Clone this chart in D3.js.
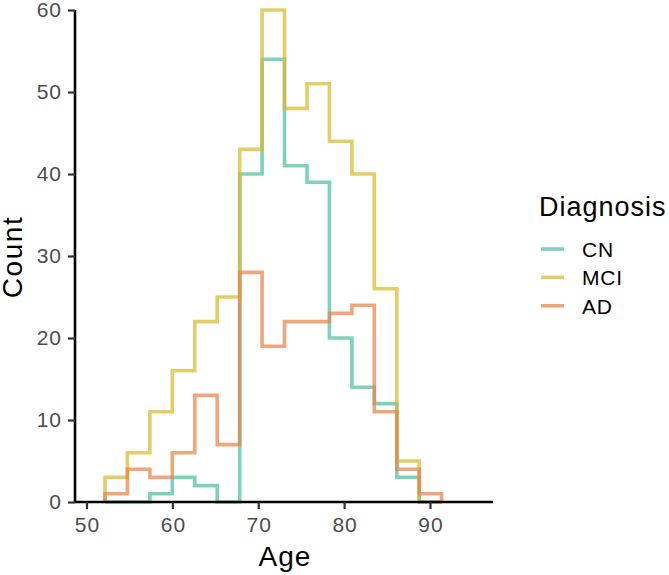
<!DOCTYPE html>
<html>
<head>
<meta charset="utf-8">
<script src="https://cdn.jsdelivr.net/npm/d3@7"></script>
<style>
  body { margin: 0; background: #fff; }
  svg { font-family: "Liberation Sans", Arial, Helvetica, sans-serif; }
</style>
</head>
<body>
<div id="chart"></div>
<script>
// histogram bin edges (Age)
const binEdges = [52.15, 54.76, 57.38, 59.99, 62.61, 65.22, 67.84, 70.45, 73.06, 75.68, 78.29, 80.91, 83.52, 86.14, 88.75, 91.36]

const diagnoses = ['CN', 'MCI', 'AD']
const cnCounts  = [0, 0, 1, 3, 2, 0, 40, 54, 41, 39, 20, 14, 12, 3, 0]
const mciCounts = [3, 6, 11, 16, 22, 25, 43, 60, 48, 51, 44, 40, 26, 5, 0]
const adCounts  = [1, 4, 3, 6, 13, 7, 28, 19, 22, 22, 23, 24, 11, 4, 1]

const xTicks = [50, 60, 70, 80, 90]
const yTicks = [0, 10, 20, 30, 40, 50, 60]

const seriesColors = ['#4dbfa3', '#d9b92e', '#e8844a']

const width = 669, height = 575
const svg = d3.select('#chart').append('svg')
    .attr('width', width)
    .attr('height', height)

const xScale = d3.scaleLinear().domain([48.66, 97.34]).range([75, 493])
const yScale = d3.scaleLinear().domain([0, 60]).range([502, 10])
const color = d3.scaleOrdinal().domain(diagnoses).range(seriesColors)

const series = [
    {name: 'CN', counts: cnCounts},
    {name: 'MCI', counts: mciCounts},
    {name: 'AD', counts: adCounts}
]

// step outline: up from 0 at first edge, across each bin, down to 0 at the last edge
function stepPoints(counts) {
    const pts = [[binEdges[0], 0]]
    counts.forEach((c, i) => pts.push([binEdges[i], c]))
    pts.push([binEdges[binEdges.length - 1], 0])
    return pts
}

const line = d3.line()
    .x(d => xScale(d[0]))
    .y(d => yScale(d[1]))
    .curve(d3.curveStepAfter)

svg.selectAll('path.hist')
    .data(series)
    .enter().append('path')
    .attr('class', 'hist')
    .attr('d', d => line(stepPoints(d.counts)))
    .attr('fill', 'none')
    .attr('stroke', d => color(d.name))
    .attr('stroke-opacity', 0.72)
    .attr('stroke-width', 3.6)
    .attr('stroke-linejoin', 'miter')

// axes
const xAxis = svg.append('g')
    .attr('transform', `translate(0, 502)`)
    .call(d3.axisBottom(xScale).tickValues(xTicks).tickSize(7).tickPadding(8).tickFormat(d3.format('d')))
const yAxis = svg.append('g')
    .attr('transform', `translate(75, 0)`)
    .call(d3.axisLeft(yScale).tickValues(yTicks).tickSize(7).tickPadding(6).tickFormat(d3.format('d')))

for (const ax of [xAxis, yAxis]) {
    ax.select('.domain').attr('stroke', '#000').attr('stroke-width', 2.6)
    ax.selectAll('.tick line').attr('stroke', '#333').attr('stroke-width', 2.2)
    ax.selectAll('.tick text')
        .attr('fill', '#4d4d4d')
        .style('font-size', '21px')
        .style('letter-spacing', '1px')
        .style('font-family', '"Liberation Sans", Arial, sans-serif')
}
xAxis.select('.domain').attr('d', 'M75,0H493')
yAxis.select('.domain').attr('d', 'M0,10V502')
// nudge x labels so the letter spacing stays centred on the tick
xAxis.selectAll('.tick text').attr('dx', '0.5px')

svg.append('text')
    .attr('x', 285).attr('y', 566)
    .attr('text-anchor', 'middle')
    .style('font-size', '28px')
    .style('letter-spacing', '1px')
    .text('Age')

svg.append('text')
    .attr('transform', 'translate(22, 257) rotate(-90)')
    .attr('text-anchor', 'middle')
    .style('font-size', '28px')
    .style('letter-spacing', '1.6px')
    .text('Count')

// legend
const legend = svg.append('g')
legend.append('text')
    .attr('x', 539).attr('y', 216)
    .style('font-size', '27px')
    .style('letter-spacing', '1px')
    .text('Diagnosis')

const legendRows = legend.selectAll('g.row')
    .data(diagnoses)
    .enter().append('g')
    .attr('class', 'row')
    .attr('transform', (d, i) => `translate(0, ${249 + i * 28.4})`)

legendRows.append('line')
    .attr('x1', 541).attr('x2', 564)
    .attr('stroke', d => color(d))
    .attr('stroke-opacity', 0.72)
    .attr('stroke-width', 3.6)

legendRows.append('text')
    .attr('x', 582).attr('y', 8)
    .style('font-size', '21px')
    .style('letter-spacing', '0.8px')
    .text(d => d)
</script>
</body>
</html>
